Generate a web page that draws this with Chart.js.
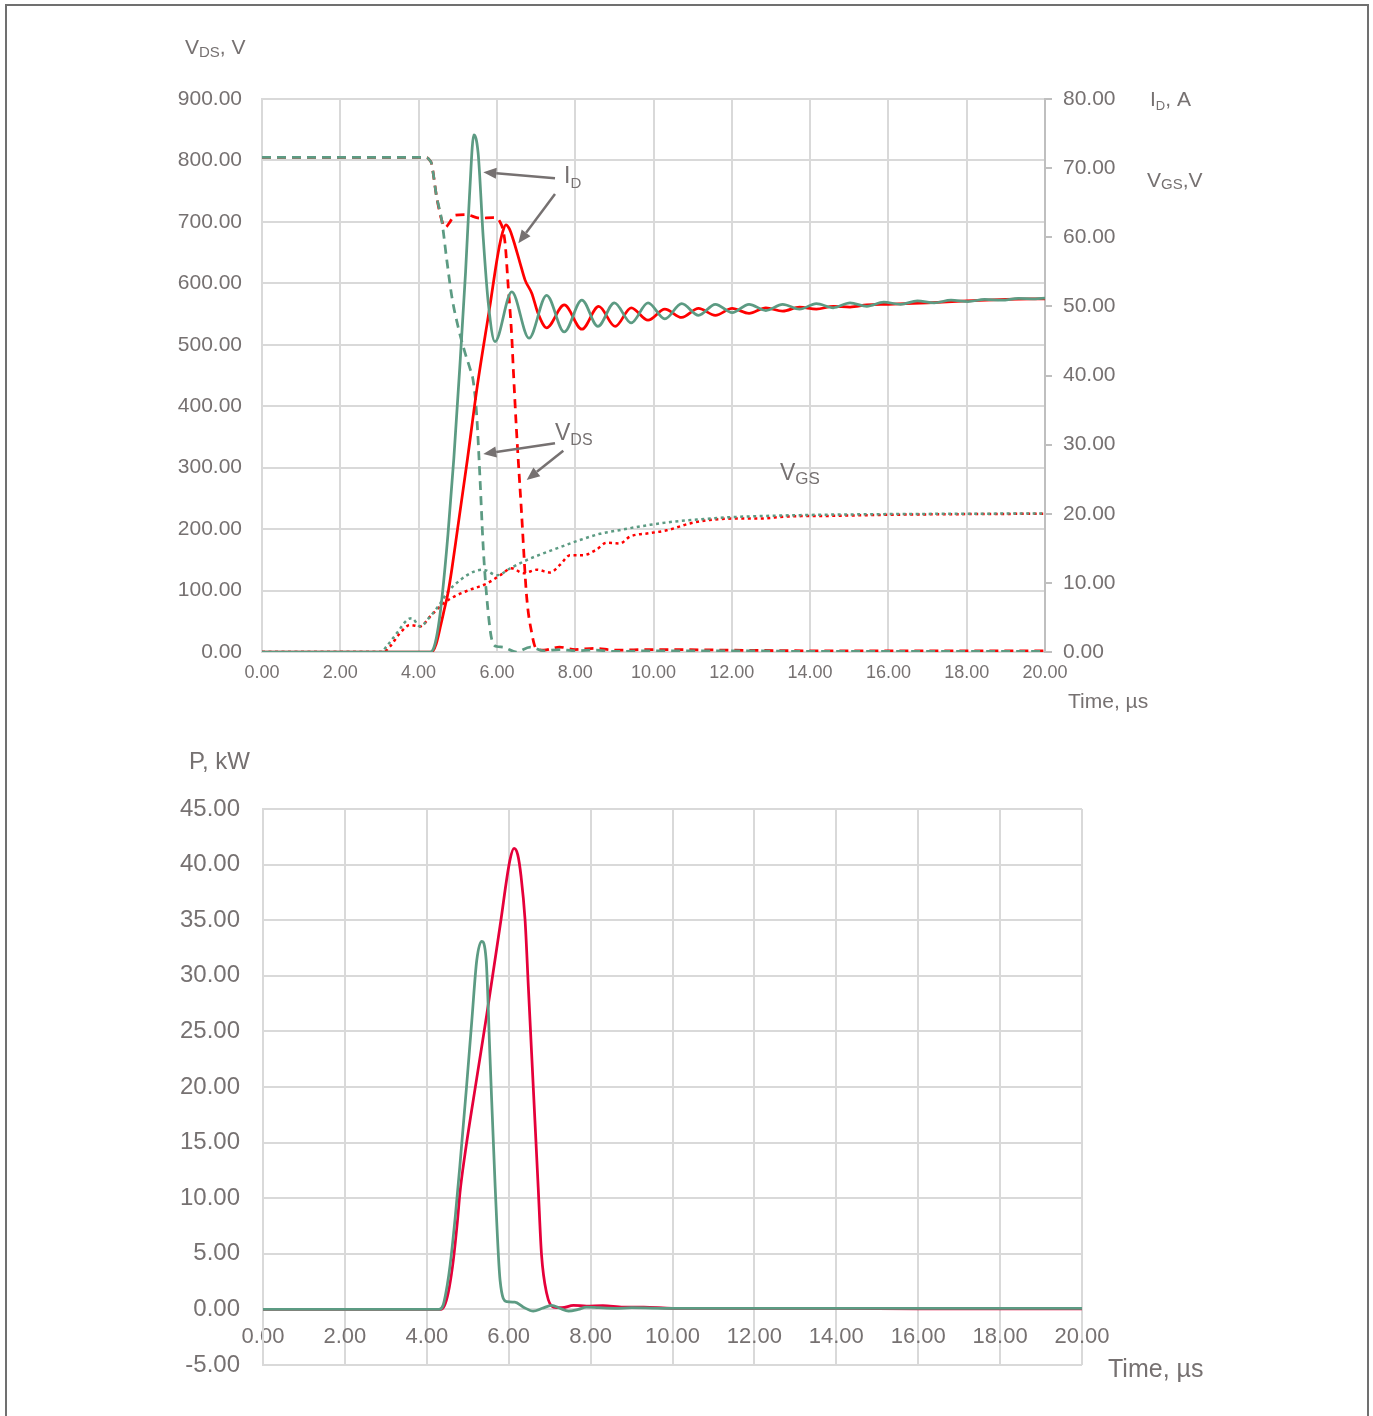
<!DOCTYPE html>
<html><head><meta charset="utf-8">
<script src="https://cdn.jsdelivr.net/npm/chart.js@4.4.1/dist/chart.umd.min.js"></script>
<style>
html,body{margin:0;padding:0;background:#fff;overflow:hidden;width:1373px;height:1416px;}
#frame{position:absolute;left:5px;top:4px;width:1364px;height:1500px;border:2px solid #707070;box-sizing:border-box;}
canvas{position:absolute;left:0;}
#c1{top:0;width:1373px;height:720px;}
#c2{top:720px;width:1373px;height:696px;}
</style></head><body>
<div id="frame"></div>
<canvas id="c1" width="1373" height="720"></canvas>
<canvas id="c2" width="1373" height="696"></canvas>
<script>
// ---------- tick values ----------
const timeTicks = [0, 2, 4, 6, 8, 10, 12, 14, 16, 18, 20];
const vdsTicks = [0, 100, 200, 300, 400, 500, 600, 700, 800, 900];
const idTicks = [0, 10, 20, 30, 40, 50, 60, 70, 80];
const pTicks = [-5, 0, 5, 10, 15, 20, 25, 30, 35, 40, 45];

// ---------- I_D (A), green ----------
const tIdGreen = [0, 4.3, 4.4, 4.5, 4.6, 4.75, 4.9, 5.05, 5.2, 5.3, 5.41, 5.52, 5.65, 5.78, 5.95, 6.38, 6.82, 7.27, 7.72, 8.17, 8.58, 9.0, 9.43, 9.86, 10.29, 10.72, 11.15, 11.58, 12.01, 12.44, 12.87, 13.3, 13.73, 14.16, 14.59, 15.02, 15.45, 15.88, 16.31, 16.74, 17.17, 17.6, 18.03, 18.46, 18.89, 19.32, 19.75, 20];
const idGreen = [0, 0, 0.8, 3.5, 8, 17, 28, 41, 55, 66, 74.8, 72.2, 60, 50.5, 44.9, 52.1, 45.4, 51.6, 46.3, 50.9, 47.1, 50.5, 47.6, 50.5, 48.2, 50.4, 48.7, 50.3, 49.1, 50.3, 49.4, 50.3, 49.6, 50.4, 49.8, 50.5, 50.0, 50.6, 50.3, 50.8, 50.5, 50.9, 50.7, 51.0, 50.9, 51.15, 51.1, 51.2];

// ---------- I_D (A), red ----------
const tIdRed = [0, 4.34, 4.45, 4.55, 4.65, 4.75, 4.85, 5.0, 5.25, 5.5, 5.82, 6.03, 6.15, 6.23, 6.32, 6.42, 6.59, 6.72, 6.89, 7.05, 7.27, 7.72, 8.17, 8.6, 9.02, 9.43, 9.86, 10.29, 10.72, 11.15, 11.58, 12.01, 12.44, 12.87, 13.3, 13.73, 14.16, 14.59, 15.02, 15.45, 16.0, 17.0, 18.0, 19.0, 20];
const idRed = [0, 0, 1.2, 3.5, 6, 8.5, 12, 18, 28, 38.5, 50, 57.7, 60.8, 61.8, 61.2, 59.6, 56.3, 53.8, 51.9, 49.0, 46.9, 50.2, 46.7, 50.0, 47.1, 49.8, 48.0, 49.6, 48.4, 49.7, 48.7, 49.7, 49.0, 49.8, 49.3, 49.9, 49.6, 50.0, 49.9, 50.2, 50.3, 50.5, 50.8, 51.0, 51.1];

// ---------- V_DS (V), green ----------
const tVdsGreen = [0, 4.2, 4.29, 4.33, 4.46, 4.59, 4.72, 4.85, 5.01, 5.19, 5.31, 5.39, 5.48, 5.57, 5.65, 5.74, 5.87, 6.0, 6.15, 6.5, 6.85, 7.2, 7.6, 8.0, 8.5, 9, 10, 12, 14, 16, 18, 20];
const vdsGreen = [805, 805, 800, 795, 741, 703, 638, 578, 529, 486, 462, 443, 389, 280, 171, 90, 20, 9, 8, 0, 8, 2, 4, 2, 3, 1, 2, 2, 1, 1, 1, 1];

// ---------- V_DS (V), red ----------
const tVdsRed = [0, 4.2, 4.29, 4.33, 4.46, 4.59, 4.68, 4.78, 4.93, 5.2, 5.57, 5.9, 6.08, 6.21, 6.29, 6.38, 6.42, 6.5, 6.63, 6.76, 6.89, 7.0, 7.2, 7.6, 8.0, 8.5, 9, 10, 12, 14, 16, 18, 20];
const vdsRed = [805, 805, 800, 795, 741, 703, 691, 698, 711, 712, 706, 707, 700, 665, 594, 513, 459, 361, 226, 90, 31, 6, 3, 8, 4, 6, 3, 4, 3, 2, 2, 2, 2];

// ---------- V_GS (V), green ----------
const tVgsGreen = [0, 3.05, 3.18, 3.44, 3.7, 3.82, 4.04, 4.29, 4.55, 4.72, 5.06, 5.4, 5.65, 6.0, 6.34, 6.76, 7.44, 8.12, 8.63, 9.0, 9.91, 10.5, 11.19, 11.95, 13.74, 16, 18, 20];
const vgsGreen = [0, 0, 0.8, 2.7, 4.6, 4.9, 3.7, 5.1, 7.0, 8.5, 10.4, 11.6, 11.9, 11.1, 12.1, 13.3, 14.8, 16.2, 17.1, 17.5, 18.4, 18.85, 19.2, 19.5, 19.8, 19.95, 20.0, 20.05];

// ---------- V_GS (V), red ----------
const tVgsRed = [0, 3.1, 3.27, 3.52, 3.78, 4.04, 4.29, 4.63, 4.97, 5.31, 5.74, 6.08, 6.38, 6.68, 7.02, 7.36, 7.61, 7.87, 8.2, 8.54, 8.8, 9.14, 9.4, 9.91, 10.34, 10.93, 11.44, 12.03, 12.7, 13.4, 14.6, 16, 18, 20];
const vgsRed = [0, 0, 0.8, 2.7, 3.9, 3.7, 5.1, 7.0, 8.2, 9.0, 9.9, 11.1, 12.1, 11.4, 11.9, 11.5, 12.6, 14.0, 14.0, 14.8, 15.8, 15.7, 16.7, 17.2, 17.6, 18.6, 19.1, 19.3, 19.3, 19.6, 19.7, 19.85, 19.95, 20.0];

// ---------- P (kW), green ----------
const tPGreen = [0, 4.3, 4.4, 4.5, 4.57, 4.7, 4.81, 4.97, 5.1, 5.22, 5.34, 5.45, 5.54, 5.67, 5.79, 5.95, 6.15, 6.36, 6.6, 6.82, 7.05, 7.25, 7.46, 7.7, 7.9, 8.2, 8.6, 9, 10, 12, 14, 16, 18, 20];
const pGreen = [0, 0, 0.4, 2.2, 4.0, 8.5, 13, 20, 26, 31.4, 33.1, 31.4, 23, 11, 2.6, 0.7, 0.65, 0.2, -0.15, 0.1, 0.36, 0.1, -0.15, 0.0, 0.2, 0.15, 0.1, 0.15, 0.1, 0.1, 0.1, 0.1, 0.1, 0.1];

// ---------- P (kW), red ----------
const tPRed = [0, 4.35, 4.45, 4.55, 4.65, 4.75, 4.81, 4.93, 5.22, 5.46, 5.79, 6.03, 6.13, 6.22, 6.3, 6.4, 6.48, 6.56, 6.64, 6.72, 6.8, 6.93, 7.09, 7.3, 7.58, 7.9, 8.3, 8.8, 9.3, 10, 12, 14, 16, 18, 20];
const pRed = [0, 0, 0.5, 2, 4.5, 8, 10.5, 13.9, 20.8, 26.4, 34.5, 40.4, 41.46, 40.9, 39, 35, 29, 23, 17, 11, 5, 1.4, 0.2, 0.15, 0.36, 0.3, 0.35, 0.2, 0.2, 0.1, 0.1, 0.1, 0.05, 0.05, 0.05];

// ---------- annotations (data coords: time, V_DS axis) ----------
const noteArrows = [[7.484, 771, 5.653, 780.8], [7.484, 745.4, 6.547, 665.2], [7.484, 339.7, 5.653, 322.3], [7.696, 327.6, 6.761, 280]];
const noteLabels = [
  {t: 7.714, v: 762.6, main: 'I', sub: 'D', ms: 23, ss: 15, dy: 5},
  {t: 7.484, v: 345, main: 'V', sub: 'DS', ms: 23, ss: 16, dy: 5},
  {t: 13.231, v: 280, main: 'V', sub: 'GS', ms: 23, ss: 17, dy: 4.5}
];

// ---------- styling ----------
const FONT = '"Liberation Sans", Arial, Helvetica, sans-serif';
const TEXT = '#767171';
const GRID = '#d9d9d9';
const GREEN = '#5c9b83';
const RED = '#ff0000';
const RED2 = '#e5003a';
Chart.defaults.font.family = FONT;
Chart.defaults.color = TEXT;

function pts(t, v) { return t.map((x, i) => ({x: x, y: v[i]})); }
function setTicks(arr) { return function (scale) { scale.ticks = arr.map(v => ({value: v})); }; }
function rich(ctx, x, y, parts) {
  ctx.textAlign = 'left'; ctx.textBaseline = 'alphabetic';
  for (const [s, size, dy] of parts) {
    ctx.font = size + 'px ' + FONT;
    ctx.fillText(s, x, y + dy);
    x += ctx.measureText(s).width;
  }
}
function arrow(ctx, x1, y1, x2, y2) {
  const ang = Math.atan2(y2 - y1, x2 - x1), L = 13, W = 5.5;
  const bx = x2 - L * Math.cos(ang), by = y2 - L * Math.sin(ang);
  ctx.beginPath(); ctx.moveTo(x1, y1); ctx.lineTo(bx, by); ctx.stroke();
  ctx.beginPath(); ctx.moveTo(x2, y2);
  ctx.lineTo(bx + W * Math.sin(ang), by - W * Math.cos(ang));
  ctx.lineTo(bx - W * Math.sin(ang), by + W * Math.cos(ang));
  ctx.closePath(); ctx.fill();
}

const topNotes = {
  id: 'topNotes',
  afterDraw(chart) {
    const ctx = chart.ctx, xs = chart.scales.x, ys = chart.scales.y;
    ctx.save();
    ctx.strokeStyle = TEXT; ctx.fillStyle = TEXT; ctx.lineWidth = 2.5;
    noteArrows.forEach(a => arrow(ctx, xs.getPixelForValue(a[0]), ys.getPixelForValue(a[1]), xs.getPixelForValue(a[2]), ys.getPixelForValue(a[3])));
    noteLabels.forEach(l => rich(ctx, xs.getPixelForValue(l.t), ys.getPixelForValue(l.v), [[l.main, l.ms, 0], [l.sub, l.ss, l.dy]]));
    const ca = chart.chartArea;
    rich(ctx, ca.left - 77, ca.top - 45.5, [['V', 21, 0], ['DS', 15, 3.5], [', V', 21, 0]]);
    rich(ctx, ca.right + 105, ca.top + 7, [['I', 21, 0], ['D', 13, 4], [', A', 21, 0]]);
    rich(ctx, ca.right + 102, ca.top + 88, [['V', 21, 0], ['GS', 15, 2], [',V', 21, 0]]);
    rich(ctx, ca.right + 23, ca.bottom + 56, [['Time, µs', 21, 0]]);
    ctx.restore();
  }
};
const bottomNotes = {
  id: 'bottomNotes',
  afterDraw(chart) {
    const ctx = chart.ctx, ca = chart.chartArea;
    ctx.save(); ctx.fillStyle = TEXT;
    rich(ctx, ca.left - 74, ca.top - 39.7, [['P, kW', 24, 0]]);
    rich(ctx, ca.right + 26, ca.bottom + 11.7, [['Time, µs', 25, 0]]);
    ctx.restore();
  }
};

function lineDs(data, color, axis, width, dash) {
  return {data: data, borderColor: color, backgroundColor: color, yAxisID: axis, borderWidth: width,
    borderDash: dash || [], pointRadius: 0, fill: false, cubicInterpolationMode: 'monotone', borderCapStyle: 'butt'};
}

new Chart(document.getElementById('c1'), {
  type: 'line',
  data: {datasets: [
    lineDs(pts(tIdGreen, idGreen), GREEN, 'y1', 2.75),
    lineDs(pts(tIdRed, idRed), RED, 'y1', 2.75),
    lineDs(pts(tVdsGreen, vdsGreen), GREEN, 'y', 2.75, [9, 6]),
    lineDs(pts(tVdsRed, vdsRed), RED, 'y', 2.75, [9, 6]),
    lineDs(pts(tVgsGreen, vgsGreen), GREEN, 'y1', 2.5, [3, 3.5]),
    lineDs(pts(tVgsRed, vgsRed), RED, 'y1', 2.5, [3, 3.5])
  ]},
  options: {
    responsive: false, animation: false, devicePixelRatio: 1,
    layout: {padding: {left: 0, right: 0, top: 99, bottom: 0}},
    plugins: {legend: {display: false}, tooltip: {enabled: false}},
    scales: {
      x: {type: 'linear', min: 0, max: 20, afterBuildTicks: setTicks(timeTicks),
        afterFit: s => { s.height = 68; },
        grid: {color: GRID, lineWidth: 2, drawTicks: false}, border: {display: true, color: GRID, width: 2},
        ticks: {padding: 10, font: {size: 18}, color: TEXT, maxRotation: 0, callback: v => v.toFixed(2)}},
      y: {type: 'linear', position: 'left', min: 0, max: 900, afterBuildTicks: setTicks(vdsTicks),
        afterFit: s => { s.width = 262; },
        grid: {color: GRID, lineWidth: 2, drawTicks: false}, border: {display: true, color: GRID, width: 2},
        ticks: {padding: 20, font: {size: 21}, color: TEXT, callback: v => v.toFixed(2)}},
      y1: {type: 'linear', position: 'right', min: 0, max: 80, afterBuildTicks: setTicks(idTicks),
        afterFit: s => { s.width = 328; },
        grid: {drawOnChartArea: false, drawTicks: true, tickLength: 7, color: '#bfbfbf', lineWidth: 2},
        border: {display: true, color: '#bfbfbf', width: 2},
        ticks: {padding: 11, font: {size: 21}, color: TEXT, callback: v => v.toFixed(2)}}
    }
  },
  plugins: [topNotes]
});

new Chart(document.getElementById('c2'), {
  type: 'line',
  data: {datasets: [
    lineDs(pts(tPGreen, pGreen), GREEN, 'y', 2.75),
    lineDs(pts(tPRed, pRed), RED2, 'y', 2.75)
  ]},
  options: {
    responsive: false, animation: false, devicePixelRatio: 1,
    layout: {padding: {left: 0, right: 291, top: 89, bottom: 51}},
    plugins: {legend: {display: false}, tooltip: {enabled: false}},
    scales: {
      x: {type: 'linear', min: 0, max: 20, position: {y: 0}, afterBuildTicks: setTicks(timeTicks),
        grid: {color: GRID, lineWidth: 2, drawTicks: false}, border: {display: true, color: GRID, width: 2},
        ticks: {padding: 14, font: {size: 22}, color: TEXT, maxRotation: 0, callback: v => v.toFixed(2)}},
      y: {type: 'linear', position: 'left', min: -5, max: 45, afterBuildTicks: setTicks(pTicks),
        afterFit: s => { s.width = 263; },
        grid: {color: GRID, lineWidth: 2, drawTicks: false}, border: {display: true, color: GRID, width: 2},
        ticks: {padding: 23, font: {size: 24}, color: TEXT, callback: v => v.toFixed(2)}}
    }
  },
  plugins: [bottomNotes]
});
</script>
</body></html>
